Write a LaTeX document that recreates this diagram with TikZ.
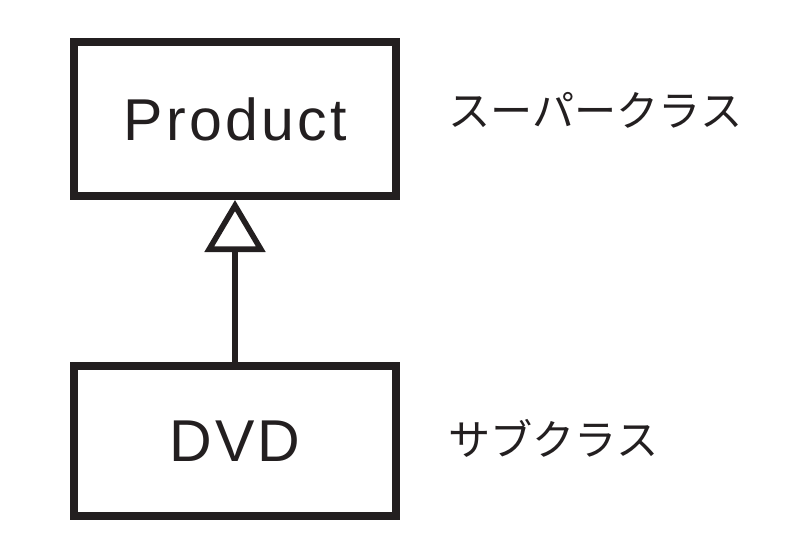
\documentclass[tikz,border=0pt]{standalone}
\usepackage{fontspec}
\setmainfont{Liberation Sans}
\newfontfamily\jpfont{Noto Sans CJK JP}
\newfontfamily\boxfont[LetterSpace=5.5]{Liberation Sans}
\usetikzlibrary{arrows.meta, positioning}
\definecolor{umlink}{RGB}{35, 31, 32}

\begin{document}
\begin{tikzpicture}[
    classbox/.style={draw=umlink, line width=0.2cm,
      minimum width=8.05cm, minimum height=3.85cm,
      text=umlink, font=\boxfont\fontsize{42}{48}\selectfont},
    rolelabel/.style={inner sep=0pt, text=umlink,
      font=\jpfont\fontsize{30}{36}\selectfont},
    inherit/.style={-{Triangle[open, length=1.3cm, width=1.5cm]},
      line width=0.14cm, draw=umlink}
  ]
  \useasboundingbox (0,0) rectangle (20.3,-13.85);

  \node[classbox] (product) at (5.875,-2.975) {Product};
  \node[classbox, minimum height=3.75cm, below=4.05cm of product] (dvd) {DVD};

  \node[rolelabel, right=1.2cm of product, yshift=0.225cm] (superlbl)
    {スーパークラス};
  \node[rolelabel, right=1.2cm of dvd, yshift=0.075cm] (sublbl)
    {サブクラス};

  \draw[inherit] (dvd) -- (product);
\end{tikzpicture}
\end{document}
